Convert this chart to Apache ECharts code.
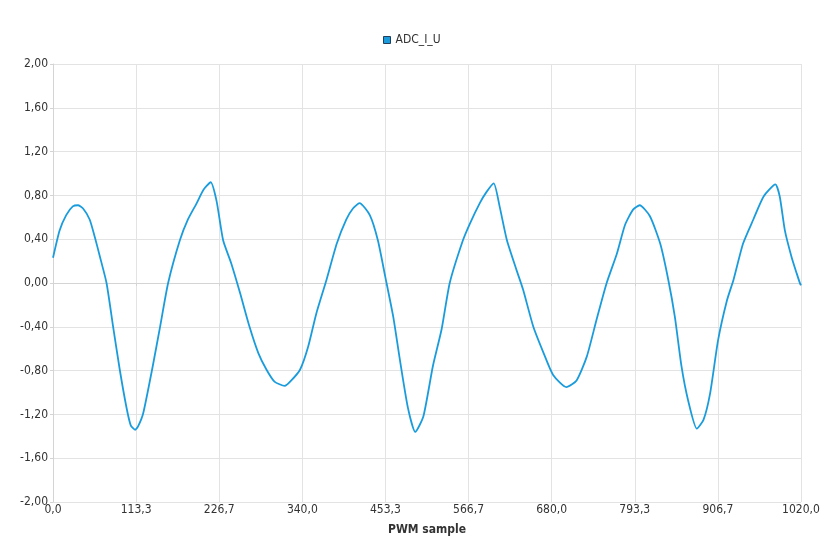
<!DOCTYPE html>
<html>
<head>
<meta charset="utf-8">
<script src="https://cdn.jsdelivr.net/npm/echarts@6/dist/echarts.min.js"></script>
<style>html,body{margin:0;padding:0;background:#fff}#c{width:833px;height:554px}</style>
</head>
<body>
<div id="c"></div>
<script>
const seriesName = 'ADC_I_U';
const xAxisName = 'PWM sample';
const samples = [0,9,18,27,34,41,50,57,64,73,82,91,100,106,112,116,123,136,146,157,173,184,196,205,215,223,232,243,255,268,280,291,302,316,325,337,348,359,373,387,400,409,418,432,443,453,464,473,484,494,505,518,530,541,559,569,582,591,601,609,619,632,641,655,669,682,700,714,728,741,755,769,780,791,800,814,828,839,848,857,866,878,887,896,907,919,928,941,955,969,985,991,998,1007,1014,1019,1020];
const values = [0.23,0.48,0.62,0.70,0.71,0.68,0.58,0.42,0.24,0.00,-0.40,-0.79,-1.13,-1.30,-1.34,-1.31,-1.19,-0.76,-0.40,0.00,0.39,0.58,0.73,0.85,0.92,0.75,0.39,0.18,-0.09,-0.40,-0.64,-0.79,-0.90,-0.94,-0.89,-0.79,-0.58,-0.28,0.03,0.36,0.58,0.68,0.73,0.62,0.39,0.06,-0.31,-0.70,-1.14,-1.36,-1.22,-0.76,-0.42,0.00,0.39,0.55,0.73,0.83,0.91,0.70,0.39,0.12,-0.06,-0.40,-0.64,-0.84,-0.95,-0.89,-0.67,-0.34,0.00,0.27,0.53,0.67,0.71,0.61,0.36,0.03,-0.31,-0.76,-1.07,-1.33,-1.25,-1.01,-0.52,-0.16,0.03,0.36,0.58,0.79,0.90,0.79,0.48,0.24,0.09,-0.01,-0.02];
const yMin = -2, yMax = 2, yStep = 0.4;
const xMin = 0, xMax = 1020, xSteps = 9;

const data = samples.map((s, i) => [s, values[i]]);
const fmt = (v, d) => v.toFixed(d).replace('.', ',');
const font = '"DejaVu Sans Condensed", "Liberation Sans", sans-serif';

const chart = echarts.init(document.getElementById('c'), null, {renderer: 'canvas'});
chart.setOption({
  animation: false,
  backgroundColor: '#ffffff',
  legend: {
    data: [{name: seriesName, icon: 'rect'}],
    top: 29,
    left: 378,
    itemWidth: 7,
    itemHeight: 7,
    itemGap: 4,
    textStyle: {color: '#333', fontSize: 12, fontFamily: font},
    itemStyle: {borderColor: '#1f3f5a', borderWidth: 1}
  },
  grid: {left: 53, right: 32, top: 64, bottom: 52, containLabel: false},
  xAxis: {
    type: 'value',
    min: xMin, max: xMax, interval: (xMax - xMin) / xSteps,
    name: xAxisName, nameLocation: 'middle', nameGap: 22,
    nameTextStyle: {color: '#333', fontWeight: 'bold', fontSize: 12, fontFamily: font},
    axisLine: {show: true, lineStyle: {color: '#d4d4d4'}},
    axisTick: {show: true, length: 3, lineStyle: {color: '#d4d4d4'}},
    axisLabel: {color: '#333', fontSize: 12, fontFamily: font, margin: 2, formatter: v => fmt(v, 1), showMaxLabel: true},
    splitLine: {show: true, lineStyle: {color: '#e3e3e3'}}
  },
  yAxis: {
    type: 'value',
    min: yMin, max: yMax, interval: yStep,
    axisLine: {show: true, lineStyle: {color: '#d4d4d4'}},
    axisTick: {show: true, length: 3, lineStyle: {color: '#d4d4d4'}},
    axisLabel: {color: '#333', fontSize: 12, fontFamily: font, margin: 5, formatter: v => fmt(v, 2)},
    splitLine: {show: true, lineStyle: {color: '#e3e3e3'}}
  },
  series: [{
    name: seriesName,
    type: 'line',
    data: data,
    showSymbol: false,
    smooth: 0.2,
    color: '#1a9cdc',
    lineStyle: {width: 1.8, color: '#1a9cdc'}
  }]
});
</script>
</body>
</html>
